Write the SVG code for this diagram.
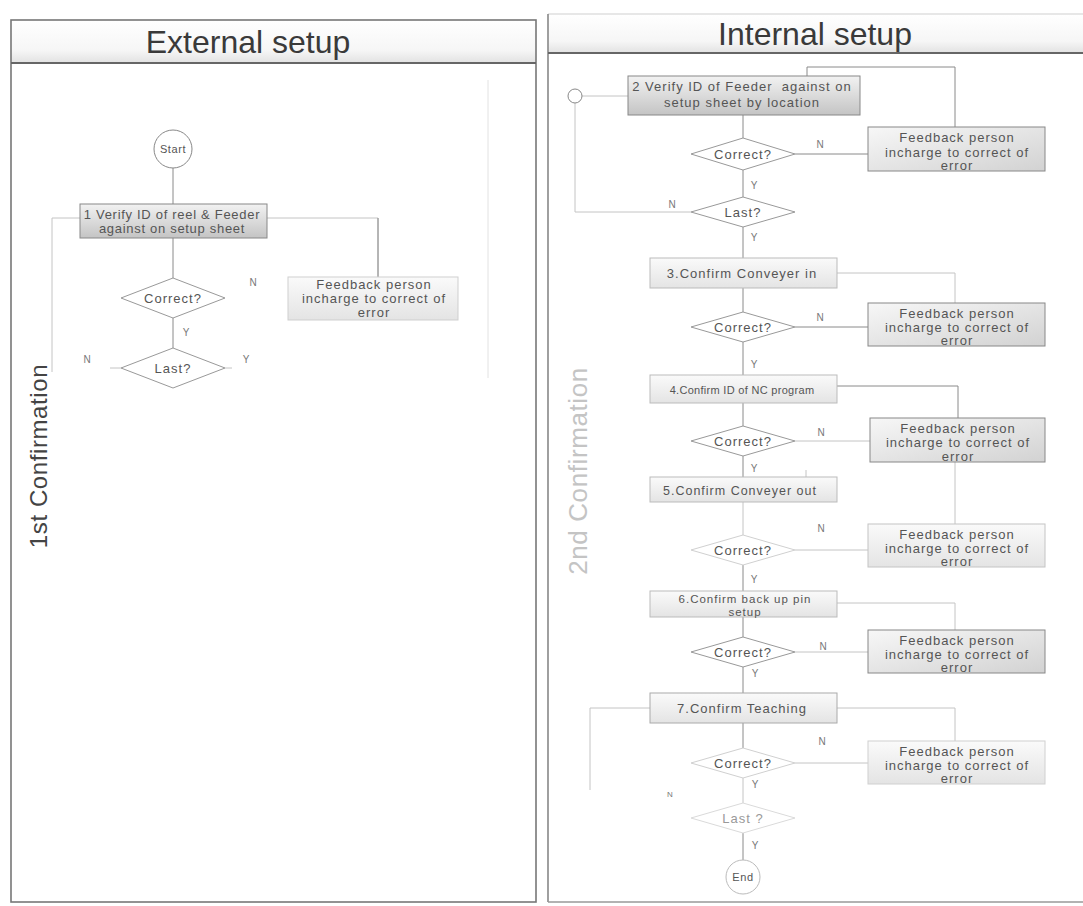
<svg xmlns="http://www.w3.org/2000/svg" width="1083" height="906" viewBox="0 0 1083 906">
  <defs>
    <linearGradient id="gProc" x1="0" y1="0" x2="0" y2="1">
      <stop offset="0" stop-color="#f2f2f2"/>
      <stop offset="1" stop-color="#c4c4c4"/>
    </linearGradient>
    <linearGradient id="gProcLight" x1="0" y1="0" x2="0" y2="1">
      <stop offset="0" stop-color="#fafafa"/>
      <stop offset="1" stop-color="#e4e4e4"/>
    </linearGradient>
    <linearGradient id="gFeed" x1="0" y1="0" x2="1" y2="1">
      <stop offset="0" stop-color="#f7f7f7"/>
      <stop offset="1" stop-color="#d2d2d2"/>
    </linearGradient>
    <linearGradient id="gHead" x1="0" y1="0" x2="0" y2="1">
      <stop offset="0" stop-color="#ffffff"/>
      <stop offset="0.7" stop-color="#f6f6f6"/>
      <stop offset="1" stop-color="#e2e2e2"/>
    </linearGradient>
  </defs>
  <style>
    text { font-family: "Liberation Sans", Arial, sans-serif; fill: #444; }
    .title { font-size: 32px; fill: #3a3a3a; text-anchor: middle; }
    .lane { font-size: 24px; text-anchor: middle; letter-spacing: 0.6px; }
    .node { font-size: 13px; letter-spacing: 1px; text-anchor: middle; fill: #555; }
    .lbl { font-size: 10px; fill: #777; text-anchor: middle; }
    .frame { fill: none; stroke: #777; stroke-width: 1.6; }
    .sep { stroke: #666; stroke-width: 2; }
    .proc { stroke: #888; stroke-width: 1; }
    .dec { fill: #ffffff; stroke: #999; stroke-width: 1; }
    .term { fill: #ffffff; stroke: #888; stroke-width: 1; }
    .conn path, .conn line { fill: none; stroke: #8a8a8a; stroke-width: 1; }
    .conn .faint { stroke: #c4c4c4; }
  </style>

  <rect width="1083" height="906" fill="#ffffff"/>

  <!-- swimlane frames -->
  <g id="lane-external">
    <rect x="11" y="20" width="525" height="43" fill="url(#gHead)"/>
    <rect x="11" y="20" width="525" height="882" class="frame"/>
    <line x1="11" y1="63" x2="536" y2="63" class="sep"/>
    <text x="248" y="53" class="title">External setup</text>
    <text class="lane" fill="#555" transform="translate(47 456) rotate(-90)">1st Confirmation</text>
    <line x1="488" y1="80" x2="488" y2="378" stroke="#e2e2e2" stroke-width="1"/>
  </g>
  <g id="lane-internal">
    <rect x="548" y="14" width="535" height="39" fill="url(#gHead)"/>
    <line x1="548" y1="14" x2="1083" y2="14" stroke="#d0d0d0" stroke-width="1.2"/>
    <line x1="548" y1="14" x2="548" y2="902" stroke="#888" stroke-width="1.6"/>
    <line x1="548" y1="902" x2="1083" y2="902" stroke="#999" stroke-width="1.4"/>
    <line x1="548" y1="53" x2="1083" y2="53" class="sep"/>
    <text x="815" y="45" class="title">Internal setup</text>
    <text class="lane" style="fill:#c4c4c4;font-size:26px" transform="translate(587 471) rotate(-90)">2nd Confirmation</text>
  </g>

  <!-- connectors -->
  <g id="connectors" class="conn">
    <!-- external setup -->
    <line x1="173" y1="168" x2="173" y2="204"/>
    <line x1="173" y1="238" x2="173" y2="278"/>
    <line x1="173" y1="318" x2="173" y2="348"/>
    <path d="M267 218 H378 V277" class="faint"/>
    <line x1="378" y1="218" x2="378" y2="277"/>
    <path d="M80 218 H52 V372" class="faint"/>
    <path d="M121 368 H110" class="faint"/>
    <path d="M225 368 H232" class="faint"/>

    <!-- internal setup: step 2 -->
    <path d="M582 96 H628" class="faint"/>
    <path d="M575 103 V212 H691" class="faint"/>
    <path d="M807 95 V67 H955 V127"/>
    <path d="M807 95 H858"/>
    <line x1="743" y1="115" x2="743" y2="138"/>
    <line x1="795" y1="154" x2="868" y2="154"/>
    <line x1="743" y1="170" x2="743" y2="197"/>
    <line x1="743" y1="227" x2="743" y2="258"/>

    <!-- step 3 -->
    <path d="M837 273 H955 V303" class="faint"/>
    <line x1="743" y1="288" x2="743" y2="312"/>
    <line x1="795" y1="327" x2="868" y2="327"/>
    <line x1="743" y1="342" x2="743" y2="375"/>

    <!-- step 4 -->
    <path d="M837 386 H958 V418"/>
    <line x1="743" y1="403" x2="743" y2="426"/>
    <line x1="795" y1="441" x2="870" y2="441" class="faint"/>
    <line x1="743" y1="456" x2="743" y2="477"/>

    <!-- step 5 -->
    <path d="M837 488 H806 V470" class="faint"/>
    <line x1="955" y1="462" x2="955" y2="524" class="faint"/>
    <line x1="743" y1="502" x2="743" y2="535" class="faint"/>
    <line x1="795" y1="550" x2="868" y2="550" class="faint"/>
    <line x1="743" y1="565" x2="743" y2="591"/>

    <!-- step 6 -->
    <path d="M837 603 H955 V630" class="faint"/>
    <line x1="743" y1="617" x2="743" y2="637"/>
    <line x1="795" y1="652" x2="868" y2="652" class="faint"/>
    <line x1="743" y1="667" x2="743" y2="693"/>

    <!-- step 7 -->
    <path d="M650 708 H590 V790" class="faint"/>
    <path d="M837 708 H955 V741" class="faint"/>
    <line x1="743" y1="723" x2="743" y2="748"/>
    <line x1="795" y1="763" x2="868" y2="763" class="faint"/>
    <line x1="743" y1="778" x2="743" y2="803" class="faint"/>
    <line x1="743" y1="833" x2="743" y2="860"/>
  </g>

  <!-- external setup nodes -->
  <g id="start">
    <circle cx="173" cy="149" r="19" class="term"/>
    <text x="173" y="153" class="node" style="font-size:11px;letter-spacing:0.6px">Start</text>
  </g>
  <g id="step1">
    <rect x="80" y="204" width="187" height="34" fill="url(#gProc)" class="proc"/>
    <text x="172" y="219" class="node" style="letter-spacing:0.7px">1 Verify ID of reel &amp; Feeder</text>
    <text x="172" y="233" class="node" style="letter-spacing:0.7px">against on setup sheet</text>
  </g>
  <g id="check1">
    <polygon points="121,298 173,278 225,298 173,318" class="dec"/>
    <text x="173" y="303" class="node">Correct?</text>
  </g>
  <g id="feedback1">
    <rect x="288" y="277" width="170" height="43" fill="url(#gProcLight)" stroke="#cfcfcf" stroke-width="1"/>
    <text x="374" y="289" class="node">Feedback person</text>
    <text x="374" y="303" class="node">incharge to correct of</text>
    <text x="374" y="317" class="node">error</text>
  </g>
  <g id="last1">
    <polygon points="121,368 173,348 225,368 173,388" class="dec"/>
    <text x="173" y="373" class="node">Last?</text>
  </g>
  <g id="labels-external">
    <text x="253" y="286" class="lbl">N</text>
    <text x="186" y="336" class="lbl">Y</text>
    <text x="87" y="363" class="lbl">N</text>
    <text x="246" y="363" class="lbl">Y</text>
  </g>

  <!-- internal setup nodes -->
  <g id="loop-point">
    <circle cx="575" cy="96" r="7" class="term" stroke="#aaa"/>
  </g>
  <g id="step2">
    <rect x="628" y="76" width="232" height="39" fill="url(#gProc)" class="proc"/>
    <text x="742" y="91" class="node" xml:space="preserve">2 Verify ID of Feeder  against on</text>
    <text x="742" y="107" class="node">setup sheet by location</text>
  </g>
  <g id="check2">
    <polygon points="691,154 743,138 795,154 743,170" class="dec"/>
    <text x="743" y="159" class="node">Correct?</text>
  </g>
  <g id="feedback2">
    <rect x="868" y="127" width="177" height="44" fill="url(#gFeed)" class="proc"/>
    <text x="957" y="142" class="node">Feedback person</text>
    <text x="957" y="157" class="node">incharge to correct of</text>
    <text x="957" y="170" class="node">error</text>
  </g>
  <g id="last2">
    <polygon points="691,212 743,197 795,212 743,227" class="dec"/>
    <text x="743" y="217" class="node">Last?</text>
  </g>

  <g id="step3">
    <rect x="650" y="258" width="187" height="30" fill="url(#gProcLight)" stroke="#bbb" stroke-width="1"/>
    <text x="742" y="278" class="node">3.Confirm Conveyer in</text>
  </g>
  <g id="check3">
    <polygon points="691,327 743,312 795,327 743,342" class="dec"/>
    <text x="743" y="332" class="node">Correct?</text>
  </g>
  <g id="feedback3">
    <rect x="868" y="303" width="177" height="43" fill="url(#gFeed)" class="proc"/>
    <text x="957" y="318" class="node">Feedback person</text>
    <text x="957" y="332" class="node">incharge to correct of</text>
    <text x="957" y="345" class="node">error</text>
  </g>

  <g id="step4">
    <rect x="650" y="375" width="187" height="28" fill="url(#gProcLight)" stroke="#bbb" stroke-width="1"/>
    <text x="742" y="394" class="node" style="font-size:11px;letter-spacing:0.3px">4.Confirm ID of NC program</text>
  </g>
  <g id="check4">
    <polygon points="691,441 743,426 795,441 743,456" class="dec"/>
    <text x="743" y="446" class="node">Correct?</text>
  </g>
  <g id="feedback4">
    <rect x="870" y="418" width="175" height="44" fill="url(#gFeed)" class="proc"/>
    <text x="958" y="433" class="node">Feedback person</text>
    <text x="958" y="447" class="node">incharge to correct of</text>
    <text x="958" y="461" class="node">error</text>
  </g>

  <g id="step5">
    <rect x="650" y="477" width="187" height="25" fill="url(#gProcLight)" stroke="#bbb" stroke-width="1"/>
    <text x="740" y="495" class="node" style="font-size:12.5px">5.Confirm Conveyer out</text>
  </g>
  <g id="check5">
    <polygon points="691,550 743,535 795,550 743,565" fill="#fff" stroke="#d0d0d0" stroke-width="1"/>
    <text x="743" y="555" class="node">Correct?</text>
  </g>
  <g id="feedback5">
    <rect x="868" y="524" width="177" height="43" fill="url(#gProcLight)" stroke="#c4c4c4" stroke-width="1"/>
    <text x="957" y="539" class="node">Feedback person</text>
    <text x="957" y="553" class="node">incharge to correct of</text>
    <text x="957" y="566" class="node">error</text>
  </g>

  <g id="step6">
    <rect x="650" y="591" width="187" height="26" fill="url(#gProcLight)" stroke="#bbb" stroke-width="1"/>
    <text x="745" y="603" class="node" style="font-size:11.5px">6.Confirm back up pin</text>
    <text x="745" y="616" class="node" style="font-size:11.5px">setup</text>
  </g>
  <g id="check6">
    <polygon points="691,652 743,637 795,652 743,667" class="dec"/>
    <text x="743" y="657" class="node">Correct?</text>
  </g>
  <g id="feedback6">
    <rect x="868" y="630" width="177" height="43" fill="url(#gFeed)" class="proc"/>
    <text x="957" y="645" class="node">Feedback person</text>
    <text x="957" y="659" class="node">incharge to correct of</text>
    <text x="957" y="672" class="node">error</text>
  </g>

  <g id="step7">
    <rect x="650" y="693" width="187" height="30" fill="url(#gProcLight)" stroke="#aaa" stroke-width="1"/>
    <text x="742" y="713" class="node">7.Confirm Teaching</text>
  </g>
  <g id="check7">
    <polygon points="691,763 743,748 795,763 743,778" fill="#fff" stroke="#d0d0d0" stroke-width="1"/>
    <text x="743" y="768" class="node">Correct?</text>
  </g>
  <g id="feedback7">
    <rect x="868" y="741" width="177" height="43" fill="url(#gProcLight)" stroke="#d0d0d0" stroke-width="1"/>
    <text x="957" y="756" class="node">Feedback person</text>
    <text x="957" y="770" class="node">incharge to correct of</text>
    <text x="957" y="783" class="node">error</text>
  </g>
  <g id="last7">
    <polygon points="691,818 743,803 795,818 743,833" fill="#fff" stroke="#dadada" stroke-width="1"/>
    <text x="743" y="823" class="node" style="fill:#999">Last ?</text>
  </g>
  <g id="end">
    <circle cx="743" cy="877" r="17" fill="#fff" stroke="#bbb" stroke-width="1"/>
    <text x="743" y="881" class="node" style="font-size:11px;letter-spacing:0.6px">End</text>
  </g>

  <g id="labels-internal">
    <text x="672" y="208" class="lbl">N</text>
    <text x="820" y="148" class="lbl">N</text>
    <text x="754" y="189" class="lbl">Y</text>
    <text x="754" y="241" class="lbl">Y</text>
    <text x="820" y="321" class="lbl">N</text>
    <text x="754" y="368" class="lbl">Y</text>
    <text x="821" y="436" class="lbl">N</text>
    <text x="754" y="472" class="lbl">Y</text>
    <text x="821" y="532" class="lbl">N</text>
    <text x="754" y="583" class="lbl">Y</text>
    <text x="823" y="650" class="lbl">N</text>
    <text x="755" y="677" class="lbl">Y</text>
    <text x="822" y="745" class="lbl">N</text>
    <text x="755" y="788" class="lbl">Y</text>
    <text x="670" y="797" class="lbl" style="font-size:8px">N</text>
    <text x="755" y="849" class="lbl">Y</text>
  </g>
</svg>
